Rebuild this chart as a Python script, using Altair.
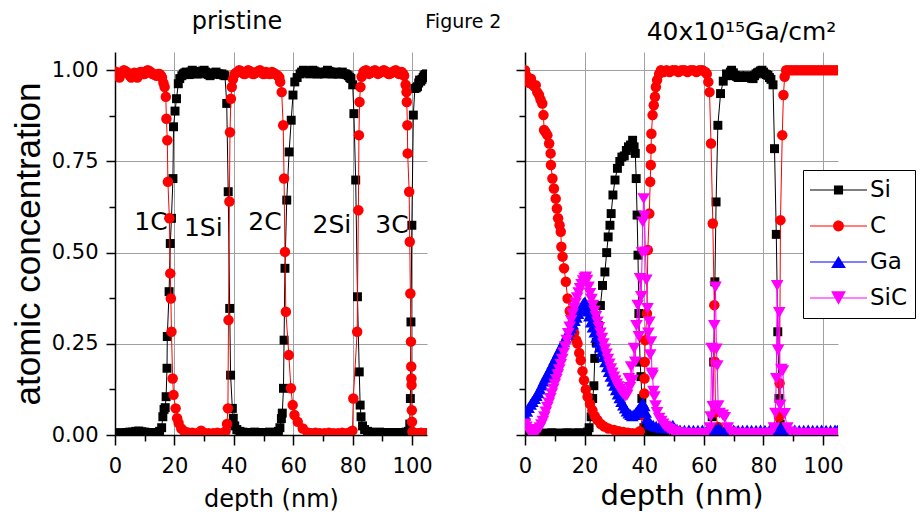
import altair as alt
import pandas as pd

FONT = "DejaVu Sans"
YFONT = "Liberation Sans"

SERIES = ["Si", "C", "Ga", "SiC"]
COLORS = ["#000000", "#ff0000", "#0000ff", "#ff00ff"]
COLOR_OF = dict(zip(SERIES, COLORS))
MARKERS = {"Si": "square", "C": "circle", "Ga": "triangle-up", "SiC": "triangle-down"}
MARKER_SIZE = {"Si": 80, "C": 110, "Ga": 160, "SiC": 160}

TITLE_LEFT = "pristine"
TITLE_RIGHT = "40x10\u00b9\u2075Ga/cm\u00b2"
FIG_LABEL = "Figure 2"
X_TITLE = "depth (nm)"
Y_TITLE = "atomic concentration"

LABEL_TEXT = ["1C", "1Si", "2C", "2Si", "3C"]
LABEL_DEPTH = [12.1, 29.7, 50.5, 73.0, 93.2]
LABEL_CONC = [0.584, 0.568, 0.584, 0.575, 0.575]

X_TICKS = [0, 10, 20, 30, 40, 50, 60, 70, 80, 90, 100]
Y_TICKS = [0, 0.125, 0.25, 0.375, 0.5, 0.625, 0.75, 0.875, 1.0]

# ---- pristine sample: (depth nm, atomic concentration) ----
P_SI = [(0,0.005),(1,0.006),(2,0.006),(3,0.005),(4,0.007),(5,0.008),(6,0.008),(7,0.010),(8,0.011),(9,0.009),
        (10,0.008),(11,0.007),(12,0.006),(13,0.006),(14,0.007),(15,0.010),(15.7,0.020),(16.1,0.050),(16.5,0.070),
        (16.9,0.075),(17.2,0.105),(17.5,0.183),(17.6,0.270),(18.2,0.393),(18.6,0.525),(19.0,0.594),(19.5,0.703),
        (19.7,0.845),(20.2,0.888),(20.7,0.922),(21.3,0.963),(21.8,0.977),(22.5,0.985),(23,0.990),(23.5,0.993),
        (24,0.995),(24.5,0.990),(25,0.988),(25.5,0.995),(26,1.000),(26.5,0.997),(27,0.995),(27.5,0.990),
        (28,0.990),(28.5,0.993),(29,0.995),(29.5,0.998),(30,1.000),(30.5,0.995),(31,0.990),(31.5,0.988),
        (32,0.985),(32.5,0.990),(33,0.990),(33.5,0.993),(34,0.995),(34.5,0.990),(35,0.990),(35.5,0.988),
        (36,0.990),(36.5,0.987),(37,0.985),(37.6,0.909),(38.1,0.667),(38.6,0.347),(38.9,0.164),
        (39.5,0.073),(39.8,0.046),(40.3,0.025),(41,0.015),(42,0.010),(43,0.008),(44,0.006),(45,0.007),(46,0.006),
        (47,0.008),(48,0.007),(49,0.006),(50,0.007),(51,0.006),(52,0.008),(53,0.006),(54,0.007),(55,0.010),
        (55.5,0.020),(56.0,0.045),(56.3,0.060),(56.7,0.128),(56.9,0.260),(57.2,0.457),(57.8,0.644),(58.6,0.776),
        (59.3,0.863),(59.9,0.932),(60.5,0.968),(61.3,0.980),(62.3,0.990),(62.8,0.995),(63.4,1.000),(63.9,0.998),
        (64.5,0.995),(65,0.993),(65.5,0.990),(66,0.995),(66.5,1.000),(67,0.998),(67.5,0.995),(68,0.990),
        (68.5,0.990),(69,0.993),(69.5,0.995),(70,0.993),(70.5,0.990),(71,0.995),(71.5,1.000),(72,0.997),
        (72.5,0.995),(73,0.990),(73.5,0.990),(74,0.993),(74.5,0.995),(75,0.990),(75.5,0.990),(76,0.993),
        (76.5,0.995),(77,0.990),(77.5,0.990),(78,0.988),(78.5,0.985),(79,0.980),(79.4,0.977),(80.0,0.960),
        (80.4,0.881),(81.0,0.699),(81.6,0.379),(82.2,0.173),(82.5,0.082),(82.8,0.050),(83.3,0.025),(84,0.015),
        (85,0.010),(86,0.008),(87,0.007),(88,0.006),(89,0.008),(90,0.007),(91,0.006),(92,0.007),(93,0.006),
        (94,0.007),(95,0.006),(96,0.007),(97,0.006),(98,0.008),(98.8,0.010),(99.2,0.030),(99.4,0.100),
        (99.6,0.310),(99.9,0.575),(100.4,0.877),(100.9,0.950),(101.4,0.952),(101.8,0.955),(102.2,0.965),
        (102.5,0.973),(102.9,0.970),(103.3,0.975),(103.7,0.980),(104,0.985),(104.4,0.988),(104.8,0.990)]

P_C = [(0,0.990),(0.5,0.995),(1,0.985),(1.5,0.980),(2,0.990),(2.5,0.995),(3,1.000),(3.5,0.997),(4,0.995),
       (4.5,0.990),(5,0.985),(5.5,0.980),(6,0.990),(6.5,0.993),(7,0.985),(7.5,0.980),(8,0.990),(8.5,0.995),
       (9,0.995),(9.5,0.990),(10,0.990),(10.5,0.997),(11,1.000),(11.5,0.998),(12,0.995),(12.5,0.990),(13,0.990),
       (13.5,0.987),(14,0.985),(14.5,0.990),(15,0.990),(15.5,0.985),(15.8,0.980),(16.3,0.965),(16.7,0.954),
       (17.1,0.927),(17.3,0.867),(17.6,0.808),(17.8,0.694),(18.3,0.594),(18.6,0.443),(18.8,0.374),(19.0,0.283),
       (19.4,0.155),(19.7,0.110),(20.4,0.073),(20.9,0.046),(21.4,0.033),(22.3,0.018),(23.3,0.010),(24.5,0.007),
       (26,0.006),(27.5,0.005),(29,0.012),(30,0.006),(31.5,0.005),(33,0.005),(34.5,0.006),(36,0.005),(37.2,0.010),
       (37.7,0.030),(38.0,0.073),(38.2,0.315),(38.5,0.640),(38.7,0.830),(39.0,0.922),(39.3,0.954),(39.7,0.975),
       (40.3,0.990),(40.8,0.993),(41.3,0.995),(41.8,1.000),(42.3,0.998),(42.8,0.995),(43.3,0.990),(43.8,0.990),
       (44.3,0.995),(44.8,1.000),(45.3,0.998),(45.8,0.995),(46.3,0.990),(46.8,0.990),(47.3,0.993),(47.8,0.995),
       (48.3,0.998),(48.8,1.000),(49.3,0.995),(49.8,0.990),(50.3,0.990),(50.8,0.995),(51.3,0.993),(51.8,0.990),
       (52.3,0.990),(52.8,0.995),(53.3,0.993),(53.8,0.990),(54.3,0.988),(54.8,0.985),(55.3,0.980),(55.6,0.968),
       (56.1,0.940),(56.6,0.849),(56.9,0.703),(57.2,0.502),(57.5,0.338),(58.5,0.219),(59.2,0.128),(59.8,0.082),
       (60.4,0.055),(61.5,0.036),(63.2,0.018),(64.8,0.007),(66,0.005),(67.5,0.006),(69,0.005),(70.5,0.005),
       (72,0.006),(73.5,0.005),(75,0.005),(76.5,0.006),(78,0.005),(79.3,0.008),(79.9,0.012),(80.2,0.100),
       (81.5,0.283),(81.9,0.616),(82.1,0.822),(82.3,0.913),(82.6,0.954),(83.0,0.982),(83.6,0.995),(84,0.998),
       (84.5,1.000),(85,0.995),(85.5,0.990),(86,0.993),(86.5,0.995),(87,0.998),(87.5,1.000),(88,0.995),
       (88.5,0.990),(89,0.993),(89.5,0.995),(90,0.998),(90.5,1.000),(91,0.997),(91.5,0.995),(92,0.990),
       (92.5,0.990),(93,0.993),(93.5,0.995),(94,0.998),(94.5,1.000),(95,0.995),(95.5,0.990),(96,0.993),
       (96.5,0.995),(97,0.990),(97.3,0.985),(97.8,0.960),(98.1,0.940),(98.2,0.913),(98.4,0.849),(98.5,0.772),
       (99.0,0.667),(99.2,0.530),(99.4,0.388),(99.6,0.256),(99.7,0.188),(99.75,0.155),(99.8,0.137),(99.9,0.068),
       (99.95,0.036),(100.1,0.009),(101,0.005),(102,0.005),(103,0.006),(104,0.005),(104.8,0.005)]

# ---- 40x10^15 Ga/cm^2 sample ----
G_SI = [(0,0.005),(1,0.004),(2,0.005),(3,0.005),(4,0.006),(5,0.005),(6,0.004),(7,0.005),(8,0.005),(9,0.006),
        (10,0.005),(11,0.005),(12,0.004),(13,0.005),(14,0.006),(15,0.005),(16,0.005),(17,0.005),(18,0.006),
        (19,0.005),(20,0.005),(21,0.008),(21.5,0.020),(22.2,0.050),(22.7,0.100),(23.1,0.135),(23.4,0.210),
        (23.9,0.254),(24.6,0.300),(25.3,0.355),(26.0,0.410),(26.8,0.447),(27.4,0.500),(27.9,0.543),(28.5,0.575),
        (28.9,0.607),(29.5,0.658),(30.2,0.699),(31.0,0.731),(31.8,0.750),(32.5,0.762),(33.3,0.765),(34.0,0.780),
        (34.7,0.790),(35.4,0.795),(36.1,0.808),(36.6,0.790),(37.0,0.772),(37.3,0.703),(37.6,0.603),(37.9,0.493),
        (38.2,0.333),(38.6,0.200),(38.9,0.160),(39.2,0.100),(39.5,0.055),(39.9,0.020),(40.5,0.008),(41.5,0.005),
        (43,0.005),(44.5,0.006),(46,0.005),(47.5,0.005),(49,0.005),(50.5,0.006),(52,0.005),(53.5,0.005),(55,0.005),
        (56.5,0.006),(58,0.005),(59.5,0.005),(61,0.005),(62.2,0.010),(62.8,0.050),(63.3,0.200),(63.7,0.420),
        (64.1,0.639),(64.7,0.849),(65.6,0.936),(66.5,0.970),(67.6,0.990),(68.1,0.988),(68.5,0.985),(68.9,0.995),
        (69.3,1.000),(69.9,0.993),(70.5,0.986),(71,0.983),(71.5,0.980),(72,0.985),(72.5,0.982),(73,0.980),
        (73.5,0.980),(74,0.983),(74.5,0.985),(75,0.982),(75.5,0.980),(76,0.978),(76.5,0.977),(77,0.985),
        (77.5,0.990),(78,0.993),(78.5,0.995),(79,0.998),(79.5,1.000),(80,0.995),(80.5,0.990),(81,0.988),
        (81.5,0.986),(82,0.980),(82.5,0.975),(83.2,0.960),(83.7,0.785),(84.3,0.550),(84.8,0.283),
        (85.2,0.100),(85.6,0.030),(86.2,0.008),(87.5,0.005),(89,0.005),(90.5,0.006),(92,0.005),(93.5,0.005),
        (95,0.005),(96.5,0.006),(98,0.005),(99.5,0.005),(101,0.005),(102.5,0.006),(104,0.005),(104.8,0.005)]

G_C = [(0,1.000),(0.5,0.985),(1.0,0.970),(1.5,0.965),(2.0,0.977),(2.6,0.960),(3.2,0.955),(3.6,0.959),(4.1,0.940),
       (4.7,0.932),(5.2,0.920),(5.8,0.909),(6.2,0.877),(6.4,0.836),(6.9,0.830),(7.5,0.822),(8.1,0.799),(8.6,0.772),
       (8.7,0.740),(9.2,0.703),(9.7,0.676),(10.3,0.648),(10.7,0.621),(11.1,0.594),(11.6,0.575),(12.0,0.557),
       (12.2,0.516),(12.6,0.489),(13.1,0.457),(13.7,0.420),(14.3,0.374),(15.0,0.340),(15.8,0.305),(16.5,0.280),
       (17.2,0.260),(17.6,0.251),(18.2,0.225),(18.7,0.205),(19.3,0.175),(19.8,0.150),(20.4,0.125),(21.0,0.105),
       (21.8,0.085),(22.6,0.068),(23.4,0.052),(24.3,0.041),(25.4,0.030),(26.6,0.023),(28.0,0.018),(29.9,0.014),
       (31.5,0.010),(33,0.008),(34.5,0.006),(36,0.005),(37.5,0.005),(38.5,0.010),(39.5,0.055),(40.0,0.114),
       (40.1,0.155),(40.2,0.200),(40.3,0.260),(40.9,0.333),(41.2,0.507),(41.7,0.607),(42.0,0.694),(42.2,0.740),
       (42.3,0.785),(42.4,0.826),(42.8,0.877),(43.2,0.904),(43.6,0.927),(43.9,0.954),(44.3,0.973),(45.0,0.990),
       (45.6,1.000),(46.5,0.995),(47.5,1.000),(48.5,0.995),(49.5,1.000),(50.5,1.000),(51.5,0.995),(52.5,1.000),
       (53.5,1.000),(54.5,0.995),(55.5,1.000),(56.5,1.000),(57.5,0.995),(58.5,1.000),(59.5,1.000),(60.5,0.995),
       (61.0,0.990),(61.5,0.968),(61.9,0.940),(62.4,0.799),(63.0,0.580),(63.5,0.356),(63.7,0.200),(63.9,0.062),
       (64.8,0.022),(65.5,0.010),(67,0.005),(68.5,0.005),(70,0.005),(71.5,0.005),(73,0.005),(74.5,0.005),
       (76,0.005),(77.5,0.005),(79,0.005),(80.5,0.005),(82,0.005),(83.5,0.005),(84.8,0.010),(85.2,0.050),
       (85.4,0.142),(85.7,0.589),(86.3,0.822),(86.7,0.932),(87.1,0.982),(87.6,1.000),(88.5,1.000),(89.5,1.000),
       (90.5,1.000),(91.5,1.000),(92.5,1.000),(93.5,1.000),(94.5,1.000),(95.5,1.000),(96.5,1.000),(97.5,1.000),
       (98.5,1.000),(99.5,1.000),(100.5,1.000),(101.5,1.000),(102.5,1.000),(103.5,1.000),(104.5,1.000)]

G_GA = [(0,0.055),(0.6,0.065),(1.2,0.075),(1.9,0.084),(2.5,0.092),(3.2,0.100),(3.8,0.108),(4.4,0.116),(5.0,0.126),
        (5.7,0.137),(6.3,0.148),(6.9,0.158),(7.5,0.167),(8.1,0.176),(8.7,0.186),(9.3,0.196),(9.9,0.206),
        (10.5,0.216),(11.1,0.226),(11.7,0.236),(12.4,0.247),(13.0,0.257),(13.6,0.266),(14.2,0.276),(14.8,0.285),
        (15.4,0.294),(16.0,0.304),(16.6,0.314),(17.2,0.323),(17.8,0.333),(18.4,0.343),(19.0,0.352),(19.6,0.361),
        (20.1,0.365),(20.6,0.355),(21.1,0.340),(21.6,0.326),(22.2,0.310),(22.8,0.296),(23.4,0.282),(24.0,0.268),
        (24.6,0.254),(25.2,0.241),(25.8,0.228),(26.4,0.215),(27.0,0.201),(27.6,0.187),(28.2,0.174),(28.8,0.161),
        (29.4,0.148),(30.0,0.136),(30.6,0.124),(31.2,0.112),(31.8,0.102),(32.4,0.092),(33.0,0.082),(33.6,0.074),
        (34.2,0.066),(34.8,0.060),(35.4,0.056),(36.0,0.053),(36.6,0.056),(37.2,0.061),(37.8,0.068),(38.4,0.075),
        (39.0,0.082),(39.5,0.088),(40.0,0.080),(40.5,0.062),(41.0,0.046),(41.6,0.036),(42.2,0.030),(43.0,0.027),
        (44.0,0.024),(45.0,0.022),(46.0,0.020),(47.0,0.022),(48.0,0.019),(49.0,0.023),(49.6,0.027),(50.2,0.019),
        (51.0,0.016),(52,0.014),(53.5,0.013),(55,0.014),(56.5,0.013),(58,0.013),(59.5,0.014),(61,0.013),
        (62.5,0.013),(64,0.014),(64.8,0.020),(65.6,0.014),(67,0.013),(68.5,0.013),(70,0.014),(71.5,0.013),
        (73,0.013),(74.5,0.014),(76,0.013),(77.5,0.013),(79,0.014),(80.5,0.013),(82,0.013),(83.5,0.014),
        (84.8,0.014),(85.5,0.019),(86.3,0.014),(87.5,0.013),(89,0.013),(90.5,0.014),(92,0.013),(93.5,0.013),
        (95,0.014),(96.5,0.013),(98,0.013),(99.5,0.014),(101,0.013),(102.5,0.013),(104,0.014),(104.8,0.013)]

G_SIC = [(0,0.030),(0.5,0.022),(1.0,0.015),(1.5,0.010),(2.0,0.008),(2.5,0.007),(3.0,0.008),(3.5,0.010),(4.0,0.012),
         (4.5,0.015),(5.0,0.020),(5.5,0.028),(6.0,0.038),(6.5,0.050),(7.0,0.063),(7.5,0.076),(8.0,0.088),
         (8.5,0.100),(9.0,0.113),(9.5,0.126),(10.0,0.139),(10.5,0.152),(11.0,0.165),(11.5,0.179),(12.0,0.193),
         (12.5,0.208),(13.0,0.225),(13.5,0.242),(14.0,0.260),(14.5,0.278),(15.0,0.296),(15.5,0.314),(16.0,0.332),
         (16.5,0.348),(17.0,0.362),(17.5,0.376),(18.0,0.390),(18.5,0.402),(19.0,0.413),(19.5,0.423),(20.0,0.430),
         (20.4,0.433),(20.8,0.424),(21.3,0.406),(21.8,0.388),(22.3,0.372),(22.8,0.356),(23.3,0.340),(23.8,0.325),
         (24.3,0.310),(24.8,0.295),(25.3,0.280),(25.8,0.265),(26.3,0.250),(26.8,0.236),(27.3,0.222),(27.8,0.208),
         (28.3,0.195),(28.8,0.182),(29.3,0.170),(29.8,0.159),(30.3,0.149),(30.8,0.140),(31.3,0.132),(31.8,0.125),
         (32.3,0.119),(32.8,0.114),(33.3,0.110),(33.8,0.107),(34.3,0.110),(34.8,0.155),(35.2,0.130),(35.6,0.187),
         (36.1,0.150),(36.6,0.238),(37.0,0.200),(37.4,0.300),(37.8,0.356),(38.2,0.270),(38.6,0.429),(39.0,0.380),
         (39.3,0.500),(39.5,0.584),(39.8,0.648),(40.1,0.600),(40.4,0.502),(40.7,0.425),(41.1,0.347),(41.4,0.280),
         (41.7,0.310),(42.0,0.220),(42.3,0.256),(42.6,0.170),(42.8,0.164),(43.1,0.120),(43.4,0.105),(43.8,0.080),
         (44.3,0.062),(45.0,0.046),(45.7,0.038),(46.3,0.030),(47.0,0.024),(47.8,0.019),(48.5,0.015),(49.3,0.012),
         (50.0,0.009),(51,0.007),(52,0.006),(53.5,0.005),(55,0.004),(56.5,0.005),(58,0.004),(59.5,0.004),
         (61,0.005),(62.0,0.020),(62.3,0.050),(62.6,0.238),(63.0,0.078),(63.5,0.300),(63.9,0.406),(64.2,0.236),
         (64.5,0.190),(64.8,0.080),(65.3,0.060),(66.3,0.055),(67.0,0.048),(68,0.020),(69,0.008),(70.5,0.005),
         (72,0.004),(73.5,0.005),(75,0.004),(76.5,0.004),(78,0.005),(79.5,0.004),(81,0.004),(82.5,0.006),
         (83.5,0.020),(84.0,0.060),(84.3,0.155),(84.6,0.410),(84.9,0.233),(85.3,0.336),(85.6,0.082),(86.0,0.180),
         (86.5,0.176),(87.1,0.059),(88,0.020),(89,0.008),(90.5,0.005),(92,0.004),(93.5,0.005),(95,0.004),
         (96.5,0.004),(98,0.005),(99.5,0.004),(101,0.004),(102.5,0.005),(104,0.004),(104.8,0.004)]

# legend symbols: a thin line with the marker on it (unit box -1..1)
LINE = "M-1,-0.02H1V0.02H-1Z"
LEGEND_PATHS = [
    LINE + "M-0.16,-0.16H0.16V0.16H-0.16Z",
    LINE + "M0.19,0A0.19,0.19 0 1,1 -0.19,0A0.19,0.19 0 1,1 0.19,0Z",
    LINE + "M0,-0.21L0.26,0.21L-0.26,0.21Z",
    LINE + "M-0.26,-0.24L0.26,-0.24L0,0.24Z",
]


def to_frame(groups):
    rows = []
    for name, pairs in groups.items():
        for d, v in pairs:
            rows.append({"series": name, "depth": d, "conc": v})
    return pd.DataFrame(rows)


left_df = to_frame({"Si": P_SI, "C": P_C})
right_df = to_frame({"Si": G_SI, "C": G_C, "Ga": G_GA, "SiC": G_SIC})
label_df = pd.DataFrame({"text": LABEL_TEXT, "depth": LABEL_DEPTH, "conc": LABEL_CONC})

XMAJ = "datum.value % 20 == 0"
YMAJ = "round(datum.value * 8) % 2 == 0"


def x_enc(title_size, title_pad):
    return alt.X(
        "depth:Q",
        scale=alt.Scale(domain=[0, 105], nice=False, zero=False),
        axis=alt.Axis(
            values=X_TICKS, title=X_TITLE, titleFont=FONT, titleFontSize=title_size,
            titleFontWeight="normal", titleColor="black", titlePadding=title_pad,
            labelExpr=f"{XMAJ} ? datum.label : ''", labelFont=FONT, labelFontSize=21,
            labelColor="black", labelPadding=10, labelFlush=False, labelOverlap=False,
            tickSize={"condition": {"test": XMAJ, "value": 10}, "value": 6},
            tickColor="black", tickWidth=1.5, domainColor="black", domainWidth=1.5,
            grid=True, gridColor="#a0a0a0", gridWidth=1,
            gridOpacity={"condition": {"test": f"{XMAJ} && datum.value > 0", "value": 1}, "value": 0},
        ),
    )


def y_enc(with_labels):
    kw = dict(
        values=Y_TICKS, labels=with_labels,
        labelExpr=f"{YMAJ} ? format(datum.value, '.2f') : ''", labelFont=FONT, labelFontSize=21,
        labelColor="black", labelPadding=8, labelFlush=False, labelOverlap=False,
        tickSize={"condition": {"test": YMAJ, "value": 9}, "value": 6},
        tickColor="black", tickWidth=1.5, domainColor="black", domainWidth=1.5,
        grid=True, gridColor="#a0a0a0", gridWidth=1,
        gridOpacity={"condition": {"test": f"{YMAJ} && datum.value > 0", "value": 1}, "value": 0},
    )
    if with_labels:
        kw.update(title=Y_TITLE, titleFont=YFONT, titleFontSize=35, titleFontWeight="normal",
                  titleColor="black", titlePadding=5)
    else:
        kw.update(title=None)
    return alt.Y("conc:Q", scale=alt.Scale(domain=[0, 1.05], nice=False, zero=False), axis=alt.Axis(**kw))


def series_layers(df, names, x, y):
    out = []
    base = alt.Chart(df)
    for s in names:
        sub = base.transform_filter(alt.datum.series == s)
        out.append(sub.mark_line(strokeWidth=1, color=COLOR_OF[s], clip=True).encode(x=x, y=y))
        out.append(sub.mark_point(shape=MARKERS[s], filled=True, size=MARKER_SIZE[s], opacity=1,
                                  color=COLOR_OF[s], strokeWidth=0, clip=True).encode(x=x, y=y))
    return out


# ---- left panel ----
xl = x_enc(24, 11)
yl = y_enc(True)
labels = alt.Chart(label_df).mark_text(font=FONT, fontSize=25, color="black", align="center",
                                       baseline="middle").encode(x=xl, y=yl, text="text:N")
left = alt.layer(labels, *series_layers(left_df, ["Si", "C"], xl, yl)).properties(
    width=312, height=383,
    title=alt.TitleParams(TITLE_LEFT, font=FONT, fontSize=24, fontWeight="normal", color="black",
                          anchor="middle", dx=-34, offset=18),
)

# ---- right panel ----
xr = x_enc(29, 5)
yr = y_enc(False)
legend_kw = dict(title=None, orient="none", legendX=688, legendY=118)
legend_layer = alt.Chart(right_df).transform_filter("datum.conc > 2").mark_point(
    filled=True, opacity=1).encode(
    x=xr, y=yr,
    color=alt.Color("series:N", scale=alt.Scale(domain=SERIES, range=COLORS), legend=alt.Legend(**legend_kw)),
    shape=alt.Shape("series:N", scale=alt.Scale(domain=SERIES, range=LEGEND_PATHS),
                    legend=alt.Legend(**legend_kw)),
)
right = alt.layer(*series_layers(right_df, SERIES, xr, yr), legend_layer).properties(
    width=313, height=383,
    title=alt.TitleParams(TITLE_RIGHT, font=FONT, fontSize=25, fontWeight="normal", color="black",
                          anchor="middle", dx=60, offset=7),
)

chart = alt.hconcat(left, right, spacing=82).properties(
    title=alt.TitleParams(FIG_LABEL, font=FONT, fontSize=19, fontWeight="normal", color="black",
                          anchor="middle", offset=-22),
    padding={"left": 3, "top": 2, "right": 0, "bottom": 0},
).configure_view(stroke=None).configure_legend(
    labelFont=FONT, labelFontSize=23, labelColor="black", labelOffset=3,
    symbolSize=3249, symbolStrokeWidth=0, clipHeight=26, rowPadding=10,
    padding=7, strokeColor="black", fillColor="white", cornerRadius=0, strokeWidth=1,
)

chart.save("out.html", embed_options={"renderer": "svg", "actions": False})
